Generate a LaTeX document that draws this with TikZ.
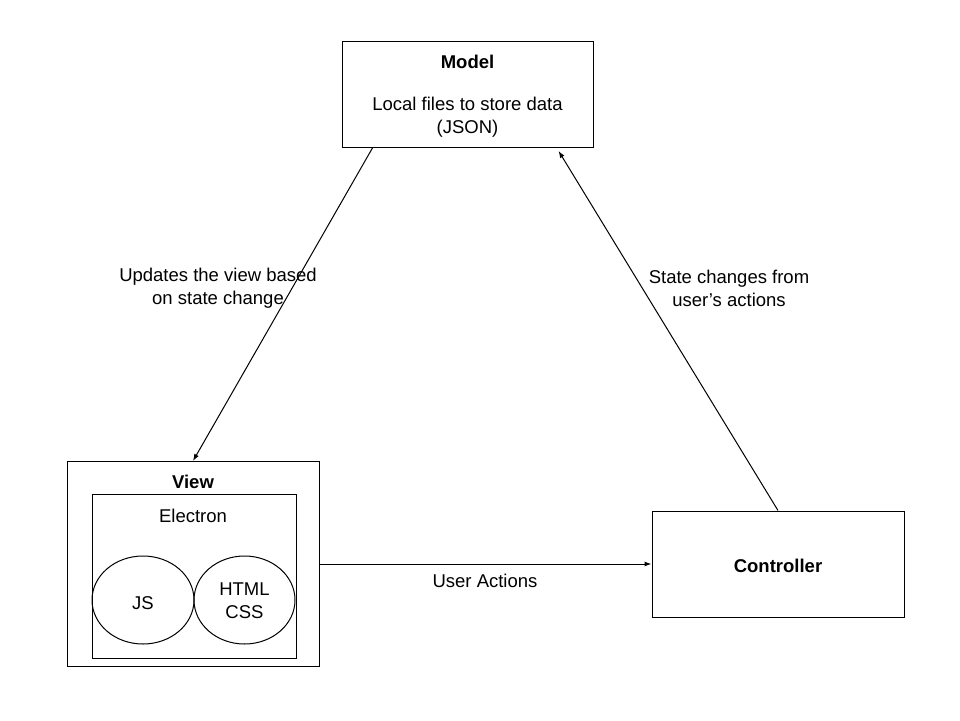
\documentclass[tikz,border=0pt]{standalone}
\usepackage{fontspec}
\setmainfont{Liberation Sans}
\usetikzlibrary{arrows.meta,shapes.geometric,calc}
\begin{document}
\begin{tikzpicture}[x=1pt,y=-1pt,
  txt/.style={font=\fontsize{18.5}{23}\selectfont, align=center, inner sep=0pt},
  btxt/.style={txt, font=\fontsize{18.5}{23}\selectfont\bfseries},
  box/.style={draw=black, line width=1pt, rectangle, inner sep=0pt},
  oval/.style={draw=black, line width=1pt, ellipse, inner sep=0pt},
  conn/.style={draw=black, line width=1pt, -{Latex[length=7pt,width=5pt]}}
]
\path[use as bounding box, fill=white] (0,0) rectangle (960,720);

% boxes
\node[box, minimum width=251pt, minimum height=106pt] (model) at (467.5,94) {};
\node[box, minimum width=252pt, minimum height=205pt] (view) at (193,564) {};
\node[box, minimum width=204pt, minimum height=164pt] (electron) at (194,576) {};
\node[oval, minimum width=102pt, minimum height=88pt] (js) at (143,600) {};
\node[oval, minimum width=101pt, minimum height=88pt] (html) at (244.5,600) {};
\node[box, minimum width=252pt, minimum height=106pt] (ctrl) at (778,564) {};

% texts
\node[btxt] (modelT) at (467.5,62) {Model};
\node[txt] (modelD) at (467.5,117) {Local files to store data\\(JSON)};
\node[btxt] (viewT) at (193,482) {View};
\node[txt] (elecT) at (193,516) {Electron};
\node[txt] (jsT) at (143,603) {JS};
\node[txt] (htmlT) at (244.5,601) {HTML\\CSS};
\node[btxt] (ctrlT) at (778,566) {Controller};

% connectors
\draw[conn] ($(model.south west)!0.124!(model.south east)$) -- (view.north);
\draw[conn, shorten >=4pt] (ctrl.north) -- ($(model.south west)!0.853!(model.south east)$);
\draw[conn] (view.east) -- (ctrl.west);

% connector labels
\node[txt] (lbl1) at (218,288) {Updates the view based\\on state change};
\node[txt] (lbl2) at (729,288) {State changes from\\user’s actions};
\node[txt] (lbl3) at (485,581) {User Actions};
\end{tikzpicture}
\end{document}
